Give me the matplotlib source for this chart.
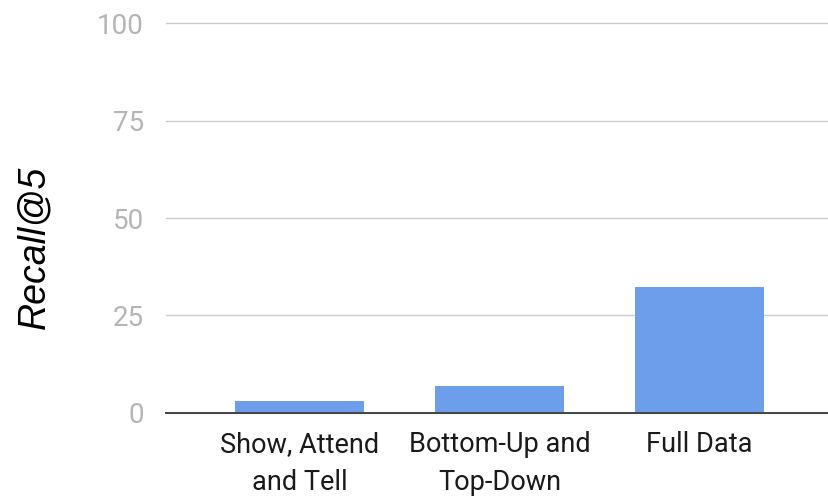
import matplotlib
matplotlib.use("Agg")
import matplotlib.pyplot as plt

categories = ["Show, Attend\nand Tell", "Bottom-Up and\nTop-Down", "Full Data"]
recall_at_5 = [3.1, 6.9, 32.3]
y_ticks = [0, 25, 50, 75, 100]

W, H, DPI = 829, 498, 100
fig = plt.figure(figsize=(W / DPI, H / DPI), dpi=DPI)

# axes box in pixels: left 166, right 829, top 23.3, bottom 412.7
left, right, top, bottom = 166, 829, 23.3, 412.7
ax = fig.add_axes([left / W, 1 - bottom / H, (right - left) / W, (bottom - top) / H])

x = range(len(categories))
ax.bar(x, recall_at_5, width=0.645, color="#6d9eeb", zorder=3)

ax.set_xlim(-0.6675, 2.6475)
ax.set_ylim(0, 100)
ax.set_yticks(y_ticks)
ax.set_yticklabels([str(v) for v in y_ticks])
ax.set_xticks(list(x))
ax.set_xticklabels(categories, linespacing=1.55)

for s in ["top", "right", "left"]:
    ax.spines[s].set_visible(False)
ax.spines["bottom"].set_color("#444444")
ax.spines["bottom"].set_linewidth(1.4)
ax.spines["bottom"].set_zorder(4)

ax.yaxis.grid(True, color="#cccccc", linewidth=1.0, zorder=0)
for gl in ax.get_ygridlines():
    gl.set_clip_on(False)
ax.set_axisbelow(True)

ax.tick_params(axis="y", length=0, pad=16, labelsize=20, labelcolor="#b5b5b5")
ax.tick_params(axis="x", length=0, pad=13, labelsize=19.5, labelcolor="#1a1a1a")
for lbl in ax.get_yticklabels() + ax.get_xticklabels():
    lbl.set_fontfamily("Roboto")

fig.text(34 / W, 1 - 247 / H, "Recall@5", rotation=90, ha="center", va="center",
         fontsize=27, style="italic", family="Liberation Sans", color="#000000")

fig.savefig("out.png", dpi=DPI)
